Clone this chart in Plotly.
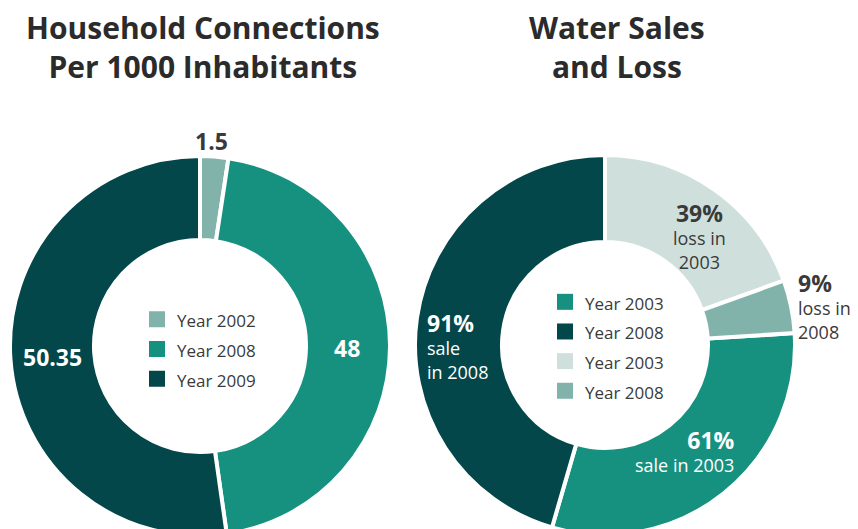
import math
import plotly.graph_objects as go

# ---- data ----
conn_labels = ["Year 2002", "Year 2008", "Year 2009"]
conn_values = [2.4, 45.4, 52.3]          # arc shares
conn_text = ["1.5", "48", "50.35"]       # printed values

water_labels = ["Year 2003", "Year 2008", "Year 2003", "Year 2008"]
water_slices = ["sale 2003", "sale 2008", "loss 2003", "loss 2008"]
water_values = [61, 91, 39, 9]
water_pct = ["61%", "91%", "39%", "9%"]
water_desc = ["sale in 2003", "sale<br>in 2008", "loss in<br>2003", "loss in<br>2008"]

# ---- styles ----
DARK = "#03474a"
TEAL = "#17917f"
MID = "#82b3ab"
LIGHT = "#cfe0dc"
TXT = "#3a3a3a"
FONT = "Open Sans"
W, H = 858, 530
OFF = 8          # page offset of the figure (body margin)

conn_colors = [MID, TEAL, DARK]
water_colors = [TEAL, DARK, LIGHT, MID]


def px(x):
    return (x - OFF) / W


def py(y):
    return 1 - (y - OFF) / H


# pie placement in page pixels: centre x, centre y, radius, hole
CONN_GEO = (200, 346, 190, 0.558)
WATER_GEO = (605, 345, 190, 0.542)


def domain(geo):
    cx, cy, r, _ = geo
    return dict(x=[px(cx - r), px(cx + r)], y=[py(cy + r), py(cy - r)])


def mid_angles(values, rotation):
    tot = sum(values)
    out, cum = [], rotation
    for v in values:
        out.append(cum + 180 * v / tot)
        cum += 360 * v / tot
    return out


water_rotation = 360 * (water_values[2] + water_values[3]) / sum(water_values)

fig = go.Figure()
fig.add_trace(go.Pie(
    labels=conn_labels, values=conn_values,
    textinfo="none", hoverinfo="skip", showlegend=False,
    sort=False, direction="clockwise", rotation=0, hole=CONN_GEO[3],
    marker=dict(colors=conn_colors, line=dict(color="white", width=4)),
    domain=domain(CONN_GEO),
))
fig.add_trace(go.Pie(
    labels=water_slices, values=water_values,
    textinfo="none", hoverinfo="skip", showlegend=False,
    sort=False, direction="clockwise", rotation=water_rotation, hole=WATER_GEO[3],
    marker=dict(colors=water_colors, line=dict(color="white", width=4)),
    domain=domain(WATER_GEO),
))

# legend entries (square swatches)
for lab, col in zip(conn_labels, conn_colors):
    fig.add_trace(go.Scatter(
        x=[None], y=[None], mode="markers", hoverinfo="skip",
        name="<span style='font-size:17px'>%s</span>" % lab,
        marker=dict(symbol="square", size=16, color=col), legend="legend"))
for lab, col in zip(water_labels, water_colors):
    fig.add_trace(go.Scatter(
        x=[None], y=[None], mode="markers", hoverinfo="skip",
        name="<span style='font-size:17px'>%s</span>" % lab,
        marker=dict(symbol="square", size=16, color=col), legend="legend2"))

annotations = [
    dict(text="<b>Household Connections<br>Per 1000 Inhabitants</b>",
         x=px(203), y=py(47)),
    dict(text="<b>Water Sales<br>and Loss</b>", x=px(617), y=py(47)),
]
for a in annotations:
    a.update(xref="paper", yref="paper", xanchor="center", yanchor="middle",
             showarrow=False, font=dict(family=FONT, size=30, color="#2b2b2b"))


def add_slice_labels(geo, values, rotation, texts, radii, nudges, colors, aligns, size):
    cx, cy, r, _ = geo
    for ang, t, rf, (dx, dy), col, al in zip(mid_angles(values, rotation), texts,
                                             radii, nudges, colors, aligns):
        rad = math.radians(ang)
        x = cx + r * rf * math.sin(rad) + dx
        y = cy - r * rf * math.cos(rad) + dy
        annotations.append(dict(
            text=t, x=px(x), y=py(y), xref="paper", yref="paper",
            xanchor="center", yanchor="middle", align=al, showarrow=False,
            font=dict(family=FONT, size=size, color=col)))


ring_c = (1 + CONN_GEO[3]) / 2
ring_w = (1 + WATER_GEO[3]) / 2
add_slice_labels(
    CONN_GEO, conn_values, 0,
    ["<b>%s</b>" % t for t in conn_text],
    [1.11, ring_c, ring_c], [(-4, 5), (-1.5, 1), (0.5, 1)],
    [TXT, "white", "white"], ["center"] * 3, 23)

add_slice_labels(
    WATER_GEO, water_values, water_rotation,
    ["<span style='font-size:23px'><b>%s</b></span><br>%s" % (p, d)
     for p, d in zip(water_pct, water_desc)],
    [ring_w, ring_w, ring_w, 1.19], [(-12, -9), (-2.5, 21.5), (10, 10), (-2, 6)],
    ["white", "white", TXT, TXT], ["right", "left", "center", "left"], 18)

legend_common = dict(
    font=dict(family=FONT, size=20.5, color=TXT),
    bgcolor="rgba(0,0,0,0)", itemwidth=30, traceorder="normal",
    xanchor="left", yanchor="middle",
)

fig.update_layout(
    width=W, height=H,
    margin=dict(l=0, r=0, t=0, b=0),
    paper_bgcolor="white", plot_bgcolor="white",
    showlegend=True,
    xaxis=dict(visible=False), yaxis=dict(visible=False),
    legend=dict(x=px(129 + OFF), y=py(341 + OFF), **legend_common),
    legend2=dict(x=px(537 + OFF), y=py(338.5 + OFF), **legend_common),
    annotations=annotations,
)

fig.write_html("out.html")
